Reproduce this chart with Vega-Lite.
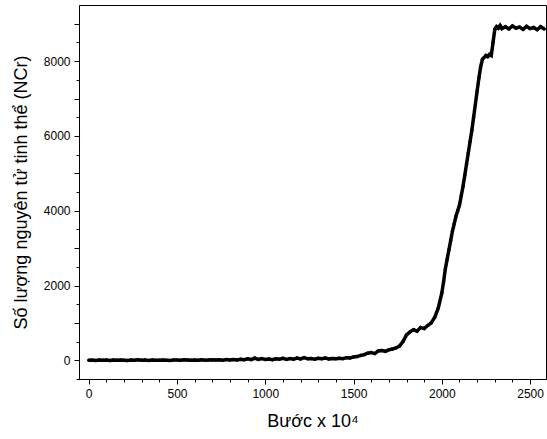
{
  "$schema": "https://vega.github.io/schema/vega-lite/v6.json",
  "width": 467,
  "height": 374,
  "autosize": {"type": "none"},
  "padding": {"left": 79, "top": 5, "right": 1, "bottom": 60},
  "background": "white",
  "config": {
    "view": {"stroke": "black", "strokeWidth": 1},
    "axis": {
      "grid": false,
      "domainColor": "black",
      "tickColor": "black",
      "labelColor": "black",
      "titleColor": "black",
      "labelFont": "Liberation Sans",
      "titleFont": "Liberation Sans",
      "labelFontSize": 12,
      "titleFontSize": 18,
      "titleFontWeight": "normal"
    }
  },
  "data": {"values": [
    {"step": 0, "n": 0}, {"step": 20, "n": 5}, {"step": 40, "n": -5}, {"step": 60, "n": 10}, {"step": 80, "n": 0},
    {"step": 100, "n": 8}, {"step": 120, "n": -3}, {"step": 140, "n": 6}, {"step": 160, "n": 0}, {"step": 180, "n": 10},
    {"step": 200, "n": 3}, {"step": 220, "n": -4}, {"step": 240, "n": 8}, {"step": 260, "n": 2}, {"step": 280, "n": 12},
    {"step": 300, "n": 0}, {"step": 320, "n": 6}, {"step": 340, "n": -2}, {"step": 360, "n": 10}, {"step": 380, "n": 4},
    {"step": 400, "n": 0}, {"step": 420, "n": 8}, {"step": 440, "n": 3}, {"step": 460, "n": -2}, {"step": 480, "n": 10},
    {"step": 500, "n": 5}, {"step": 520, "n": 0}, {"step": 540, "n": 12}, {"step": 560, "n": 6}, {"step": 580, "n": 2},
    {"step": 600, "n": 10}, {"step": 620, "n": 4}, {"step": 640, "n": 14}, {"step": 660, "n": 0}, {"step": 680, "n": 8},
    {"step": 700, "n": 15}, {"step": 720, "n": 5}, {"step": 740, "n": 12}, {"step": 760, "n": 2}, {"step": 780, "n": 18},
    {"step": 800, "n": 8}, {"step": 820, "n": 20}, {"step": 840, "n": 10}, {"step": 860, "n": 30}, {"step": 880, "n": 15},
    {"step": 900, "n": 40}, {"step": 920, "n": 20}, {"step": 940, "n": 60}, {"step": 960, "n": 25}, {"step": 980, "n": 45},
    {"step": 1000, "n": 20}, {"step": 1020, "n": 35}, {"step": 1040, "n": 15}, {"step": 1060, "n": 40}, {"step": 1080, "n": 30},
    {"step": 1100, "n": 55}, {"step": 1120, "n": 25}, {"step": 1140, "n": 45}, {"step": 1160, "n": 30}, {"step": 1180, "n": 60},
    {"step": 1200, "n": 35}, {"step": 1220, "n": 70}, {"step": 1240, "n": 40}, {"step": 1260, "n": 50}, {"step": 1280, "n": 30},
    {"step": 1300, "n": 55}, {"step": 1320, "n": 40}, {"step": 1340, "n": 60}, {"step": 1360, "n": 35}, {"step": 1380, "n": 50},
    {"step": 1400, "n": 40}, {"step": 1420, "n": 55}, {"step": 1440, "n": 45}, {"step": 1460, "n": 70}, {"step": 1480, "n": 60},
    {"step": 1500, "n": 90}, {"step": 1520, "n": 100}, {"step": 1540, "n": 130}, {"step": 1560, "n": 150}, {"step": 1580, "n": 190},
    {"step": 1600, "n": 210}, {"step": 1620, "n": 180}, {"step": 1640, "n": 250}, {"step": 1660, "n": 260}, {"step": 1680, "n": 240},
    {"step": 1700, "n": 280}, {"step": 1720, "n": 300}, {"step": 1740, "n": 330}, {"step": 1760, "n": 380}, {"step": 1780, "n": 500},
    {"step": 1800, "n": 680}, {"step": 1820, "n": 760}, {"step": 1840, "n": 820}, {"step": 1860, "n": 780}, {"step": 1880, "n": 880},
    {"step": 1900, "n": 850}, {"step": 1920, "n": 930}, {"step": 1940, "n": 1000}, {"step": 1960, "n": 1150}, {"step": 1980, "n": 1400},
    {"step": 2000, "n": 1800}, {"step": 2010, "n": 2100}, {"step": 2020, "n": 2450}, {"step": 2030, "n": 2700}, {"step": 2040, "n": 2950},
    {"step": 2050, "n": 3200}, {"step": 2060, "n": 3450}, {"step": 2070, "n": 3650}, {"step": 2080, "n": 3850}, {"step": 2090, "n": 4000},
    {"step": 2100, "n": 4150}, {"step": 2110, "n": 4400}, {"step": 2120, "n": 4650}, {"step": 2130, "n": 4950}, {"step": 2140, "n": 5250},
    {"step": 2150, "n": 5550}, {"step": 2160, "n": 5850}, {"step": 2170, "n": 6150}, {"step": 2180, "n": 6500}, {"step": 2190, "n": 6850},
    {"step": 2200, "n": 7200}, {"step": 2210, "n": 7550}, {"step": 2220, "n": 7850}, {"step": 2230, "n": 8050}, {"step": 2240, "n": 8100},
    {"step": 2250, "n": 8150}, {"step": 2260, "n": 8120}, {"step": 2270, "n": 8180}, {"step": 2280, "n": 8150}, {"step": 2290, "n": 8500},
    {"step": 2300, "n": 8850}, {"step": 2310, "n": 8920}, {"step": 2320, "n": 8880}, {"step": 2330, "n": 8950}, {"step": 2340, "n": 8870},
    {"step": 2360, "n": 8920}, {"step": 2380, "n": 8860}, {"step": 2400, "n": 8940}, {"step": 2420, "n": 8880}, {"step": 2440, "n": 8910},
    {"step": 2460, "n": 8850}, {"step": 2480, "n": 8930}, {"step": 2500, "n": 8870}, {"step": 2520, "n": 8900}, {"step": 2540, "n": 8840},
    {"step": 2560, "n": 8920}, {"step": 2580, "n": 8860}
  ]},
  "layer": [
    {
      "mark": {"type": "line", "color": "black", "strokeWidth": 3.5},
      "encoding": {
        "x": {"field": "step", "type": "quantitative",
              "scale": {"domain": [-55, 2590], "nice": false, "zero": false},
              "axis": {
                "values": [0, 100, 200, 300, 400, 500, 600, 700, 800, 900, 1000, 1100, 1200, 1300, 1400, 1500, 1600, 1700, 1800, 1900, 2000, 2100, 2200, 2300, 2400, 2500],
                "tickCount": 200,
                "labelExpr": "datum.value % 500 === 0 ? datum.label : ''",
                "labelOverlap": false, "labelBound": false, "labelFlush": false,
                "tickSize": {"condition": {"test": "datum.value % 500 === 0", "value": 5}, "value": 3},
                "labelPadding": 4, "title": "Bước x 10⁴", "titlePadding": 13, "format": "d"}},
        "y": {"field": "n", "type": "quantitative",
              "scale": {"domain": [-500, 9500], "nice": false, "zero": false},
              "axis": {
                "values": [-500, 0, 500, 1000, 1500, 2000, 2500, 3000, 3500, 4000, 4500, 5000, 5500, 6000, 6500, 7000, 7500, 8000, 8500, 9000],
                "tickCount": 200,
                "labelExpr": "datum.value % 2000 === 0 ? datum.label : ''",
                "labelOverlap": false, "labelBound": false, "labelFlush": false,
                "tickSize": {"condition": {"test": "datum.value % 1000 === 0", "value": 5}, "value": 3},
                "labelPadding": 4, "title": "Số lượng nguyên tử tinh thể (NCr)", "titlePadding": 13, "format": "d"}}
      }
    },
    {
      "mark": {"type": "point", "filled": true, "color": "black", "size": 12, "opacity": 1},
      "encoding": {
        "x": {"field": "step", "type": "quantitative"},
        "y": {"field": "n", "type": "quantitative"}
      }
    }
  ]
}
